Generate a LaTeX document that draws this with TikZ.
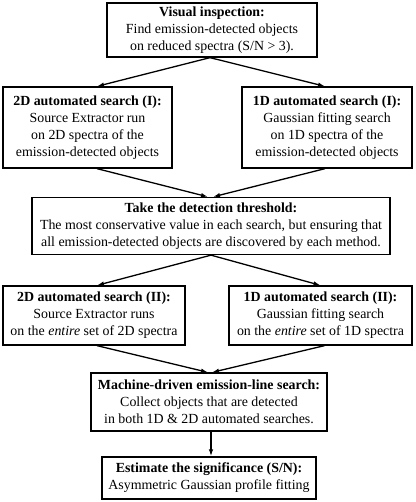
\documentclass[tikz,border=0pt]{standalone}
\usepackage{fontspec}
\setmainfont{Liberation Serif}
\usetikzlibrary{arrows.meta}
\begin{document}
\begin{tikzpicture}[x=1pt,y=-1pt,
  box/.style={draw,line width=1.3pt,align=center,inner sep=0pt,
    font=\fontsize{13.9}{17}\selectfont},
  arr/.style={line width=1.3pt,-{Latex[length=7pt,width=4.5pt]}}]
\useasboundingbox (0,0) rectangle (415,502);
\node[box,minimum width=210pt,minimum height=54pt] (b1) at (212,30)
  {\textbf{Visual inspection:}\\Find emission-detected objects\\on reduced spectra (S/N > 3).};
\node[box,minimum width=169pt,minimum height=81pt] (b2) at (87.5,127.5)
  {\textbf{2D automated search (I):}\\Source Extractor run\\on 2D spectra of the\\emission-detected objects};
\node[box,minimum width=170pt,minimum height=81pt] (b3) at (327,127.5)
  {\textbf{1D automated search (I):}\\Gaussian fitting search\\on 1D spectra of the\\emission-detected objects};
\node[box,minimum width=358pt,minimum height=57pt] (b4) at (211,226)
  {\textbf{Take the detection threshold:}\\The most conservative value in each search, but ensuring that\\all emission-detected objects are discovered by each method.};
\node[box,minimum width=182pt,minimum height=59pt] (b5) at (94,315.5)
  {\textbf{2D automated search (II):}\\Source Extractor runs\\on the \textit{entire} set of 2D spectra};
\node[box,minimum width=183pt,minimum height=59pt] (b6) at (320.5,315.5)
  {\textbf{1D automated search (II):}\\Gaussian fitting search\\on the \textit{entire} set of 1D spectra};
\node[box,minimum width=236pt,minimum height=58pt] (b7) at (209,402)
  {\textbf{Machine-driven emission-line search:}\\Collect objects that are detected\\in both 1D \& 2D automated searches.};
\node[box,minimum width=214pt,minimum height=42pt] (b8) at (209,478)
  {\textbf{Estimate the significance (S/N):}\\Asymmetric Gaussian profile fitting};
\draw[arr] ([xshift=-2pt]b1.south) -- ([xshift=9.5pt]b2.north);
\draw[arr] ([xshift=-2pt]b1.south) -- ([xshift=-2pt]b3.north);
\draw[arr] ([xshift=9.5pt]b2.south) -- ([xshift=-3pt]b4.north);
\draw[arr] ([xshift=-2pt]b3.south) -- ([xshift=2pt]b4.north);
\draw[arr] (b4.south) -- ([xshift=3pt]b5.north);
\draw[arr] (b4.south) -- ([xshift=0pt]b6.north);
\draw[arr] ([xshift=3pt]b5.south) -- ([xshift=-1pt]b7.north);
\draw[arr] ([xshift=4pt]b6.south) -- ([xshift=3pt]b7.north);
\draw[arr] ([xshift=2pt]b7.south) -- ([xshift=2pt]b8.north);
\end{tikzpicture}
\end{document}
